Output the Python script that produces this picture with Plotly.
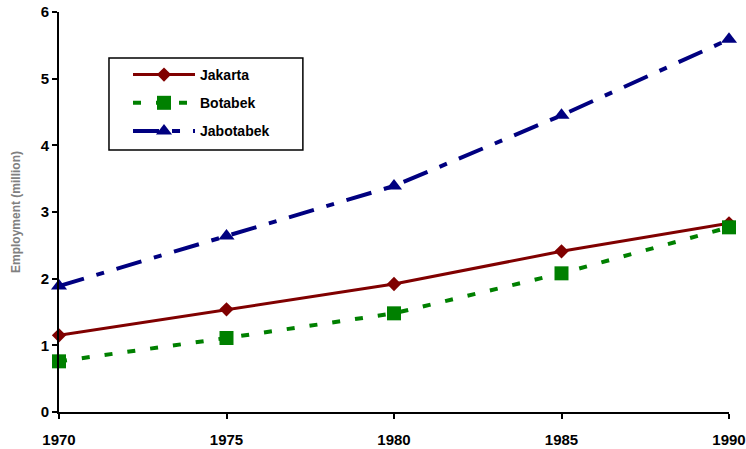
import plotly.graph_objects as go

years = [1970, 1975, 1980, 1985, 1990]
jakarta = [1.15, 1.54, 1.92, 2.41, 2.83]
botabek = [0.76, 1.11, 1.48, 2.08, 2.77]
jabotabek = [1.89, 2.64, 3.39, 4.45, 5.59]

FONT = "Arial, Liberation Sans, sans-serif"

fig = go.Figure()
fig.add_trace(go.Scatter(
    x=years, y=jakarta, name="<b>Jakarta</b>", mode="lines+markers",
    line=dict(color="#800000", width=3),
    marker=dict(symbol="diamond", size=11, color="#800000"),
    legendgroup="a", cliponaxis=False))
fig.add_trace(go.Scatter(
    x=years, y=botabek, name="<b>Botabek</b>", mode="lines+markers",
    line=dict(color="#008000", width=4, dash="8px,15px"),
    marker=dict(symbol="square", size=14, color="#008000"),
    legendgroup="b", cliponaxis=False))
fig.add_trace(go.Scatter(
    x=years, y=jabotabek, name="<b>Jabotabek</b>", mode="lines+markers",
    line=dict(color="#000080", width=4, dash="26px,13px,8px,13px"),
    marker=dict(symbol="triangle-up", size=14, color="#000080"),
    legendgroup="c", cliponaxis=False))

# legend frame
fig.add_shape(type="rect", xref="paper", yref="paper",
              x0=0.0746, x1=0.364, y0=0.655, y1=0.885,
              line=dict(color="black", width=1.5), fillcolor="rgba(0,0,0,0)",
              layer="above")

fig.update_layout(
    width=746, height=449, autosize=False,
    margin=dict(l=59, r=17, t=12, b=37),
    paper_bgcolor="white", plot_bgcolor="white",
    font=dict(family=FONT, color="black"),
    showlegend=True,
    legend=dict(
        x=0.103, y=0.8825, xanchor="left", yanchor="top",
        borderwidth=0, bgcolor="rgba(0,0,0,0)",
        font=dict(size=14, family=FONT, color="black"),
        itemwidth=62, traceorder="grouped", tracegroupgap=7,
    ),
    xaxis=dict(
        range=[1970, 1990], tickvals=years, ticktext=[f"<b>{y}</b>" for y in years],
        showgrid=False, zeroline=False, showline=True, linecolor="black", linewidth=2,
        ticks="outside", ticklen=5, tickwidth=1.5, tickcolor="black",
        tickfont=dict(size=15, family=FONT, color="black"),
        ticklabelstandoff=8, automargin=False,
    ),
    yaxis=dict(
        range=[0, 6], tickvals=[0, 1, 2, 3, 4, 5, 6],
        ticktext=[f"<b>{v}</b>" for v in range(7)],
        showgrid=False, zeroline=False, showline=True, linecolor="black", linewidth=2,
        ticks="outside", ticklen=5, tickwidth=1.5, tickcolor="black",
        tickfont=dict(size=15, family=FONT, color="black"),
        automargin=False,
        title=dict(text="<b>Employment (million)</b>", standoff=17,
                   font=dict(size=12, family=FONT, color="#808080")),
    ),
)

fig.write_html("out.html", config={"displayModeBar": False},
               post_script="document.body.style.margin='0px';document.body.style.overflow='hidden';")
